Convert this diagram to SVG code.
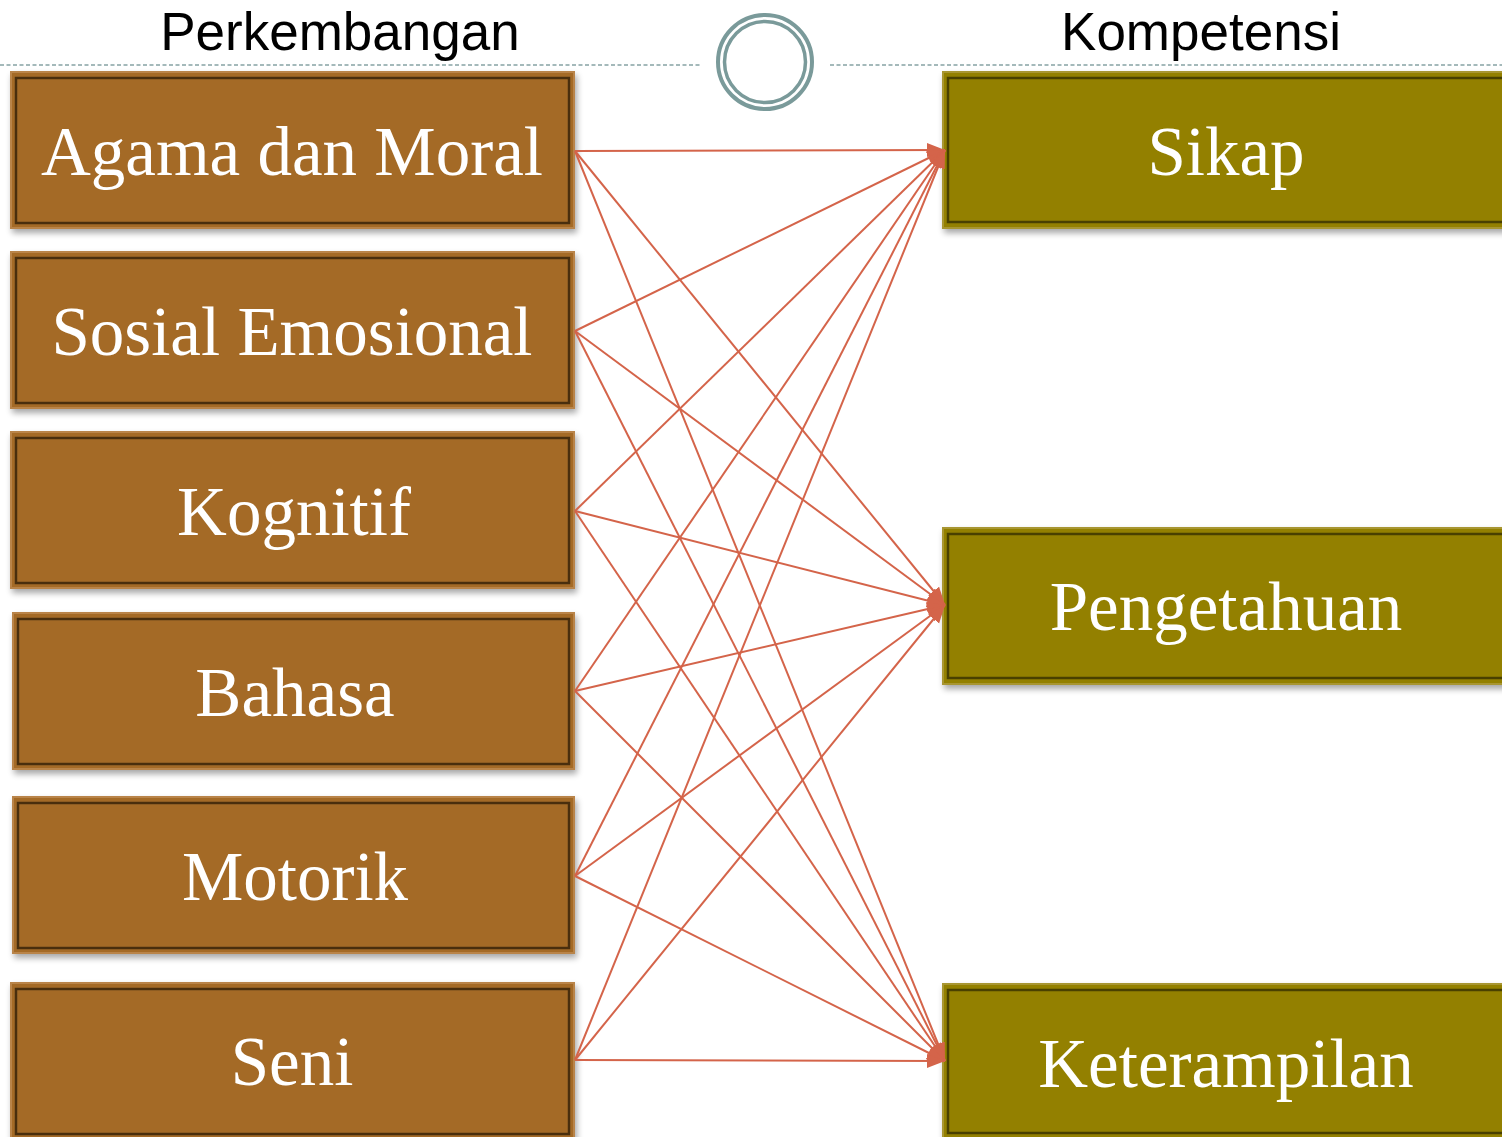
<svg xmlns="http://www.w3.org/2000/svg" width="1502" height="1137" viewBox="0 0 1502 1137">
<defs>
<filter id="sh" x="-5%" y="-10%" width="115%" height="130%">
<feGaussianBlur in="SourceAlpha" stdDeviation="3"/>
<feOffset dx="2" dy="4" result="b"/>
<feComponentTransfer><feFuncA type="linear" slope="0.35"/></feComponentTransfer>
<feMerge><feMergeNode/><feMergeNode in="SourceGraphic"/></feMerge>
</filter>
<marker id="ah" markerUnits="userSpaceOnUse" markerWidth="20" markerHeight="16" refX="18" refY="7" orient="auto">
<path d="M0,0 L18,7 L0,14 z" fill="#D4644A"/>
</marker>
</defs>
<style>
.hdr{font-family:"Liberation Sans",Arial,sans-serif;font-size:53px;fill:#000;text-anchor:middle}
.lbl{font-family:"Liberation Serif","Times New Roman",serif;font-size:69px;fill:#fff;text-anchor:middle}
.bo{fill:#A46B28;stroke:#B98448;stroke-width:2}
.bi{fill:#A46B28;stroke:#4A2E0C;stroke-width:2.5}
.go{fill:#938000;stroke:#A89630;stroke-width:2}
.gi{fill:#938000;stroke:#4A4100;stroke-width:2.5}
.cn line{stroke:#D4644A;stroke-width:2;marker-end:url(#ah)}
.dash{stroke:#86A3A4;stroke-width:1.5;stroke-dasharray:4 2.5}
</style>
<rect width="1502" height="1137" fill="#fff"/>
<line class="dash" x1="0" y1="65" x2="701" y2="65"/>
<line class="dash" x1="830" y1="65" x2="1502" y2="65"/>
<g id="ornament" fill="none" stroke="#7A9A9A">
<circle cx="765" cy="62" r="47" stroke-width="4"/>
<circle cx="765" cy="62" r="40.5" stroke-width="3.5"/>
</g>
<text class="hdr" x="340" y="50">Perkembangan</text>
<text class="hdr" x="1201" y="50">Kompetensi</text>

<g id="agama" filter="url(#sh)"><rect class="bo" x="11" y="72" width="563" height="156"/><rect class="bi" x="16" y="78" width="553" height="145"/><text class="lbl" x="292" y="175">Agama dan Moral</text></g>
<g id="sosial" filter="url(#sh)"><rect class="bo" x="11" y="252" width="563" height="156"/><rect class="bi" x="16" y="258" width="553" height="145"/><text class="lbl" x="292" y="355">Sosial Emosional</text></g>
<g id="kognitif" filter="url(#sh)"><rect class="bo" x="11" y="432" width="563" height="156"/><rect class="bi" x="16" y="438" width="553" height="145"/><text class="lbl" x="294" y="535">Kognitif</text></g>
<g id="bahasa" filter="url(#sh)"><rect class="bo" x="13" y="613" width="561" height="156"/><rect class="bi" x="18" y="619" width="551" height="145"/><text class="lbl" x="295" y="716">Bahasa</text></g>
<g id="motorik" filter="url(#sh)"><rect class="bo" x="13" y="797" width="561" height="156"/><rect class="bi" x="18" y="803" width="551" height="145"/><text class="lbl" x="295" y="900">Motorik</text></g>
<g id="seni" filter="url(#sh)"><rect class="bo" x="11" y="983" width="563" height="160"/><rect class="bi" x="16" y="989" width="553" height="145"/><text class="lbl" x="292" y="1085">Seni</text></g>

<g id="sikap" filter="url(#sh)"><rect class="go" x="943" y="72" width="575" height="156"/><rect class="gi" x="948" y="78" width="565" height="144"/><text class="lbl" x="1226" y="175">Sikap</text></g>
<g id="pengetahuan" filter="url(#sh)"><rect class="go" x="943" y="528" width="575" height="156"/><rect class="gi" x="948" y="534" width="565" height="144"/><text class="lbl" x="1226" y="630">Pengetahuan</text></g>
<g id="keterampilan" filter="url(#sh)"><rect class="go" x="943" y="984" width="575" height="170"/><rect class="gi" x="948" y="990" width="565" height="143"/><text class="lbl" x="1226" y="1087">Keterampilan</text></g>

<g id="connectors" class="cn">
<line x1="575" y1="151" x2="945" y2="150"/>
<line x1="575" y1="151" x2="945" y2="605"/>
<line x1="575" y1="151" x2="945" y2="1061"/>
<line x1="575" y1="331" x2="945" y2="150"/>
<line x1="575" y1="331" x2="945" y2="605"/>
<line x1="575" y1="331" x2="945" y2="1061"/>
<line x1="575" y1="511" x2="945" y2="150"/>
<line x1="575" y1="511" x2="945" y2="605"/>
<line x1="575" y1="511" x2="945" y2="1061"/>
<line x1="575" y1="691" x2="945" y2="150"/>
<line x1="575" y1="691" x2="945" y2="605"/>
<line x1="575" y1="691" x2="945" y2="1061"/>
<line x1="575" y1="876" x2="945" y2="150"/>
<line x1="575" y1="876" x2="945" y2="605"/>
<line x1="575" y1="876" x2="945" y2="1061"/>
<line x1="575" y1="1060" x2="945" y2="150"/>
<line x1="575" y1="1060" x2="945" y2="605"/>
<line x1="575" y1="1060" x2="945" y2="1061"/>
</g>
</svg>
